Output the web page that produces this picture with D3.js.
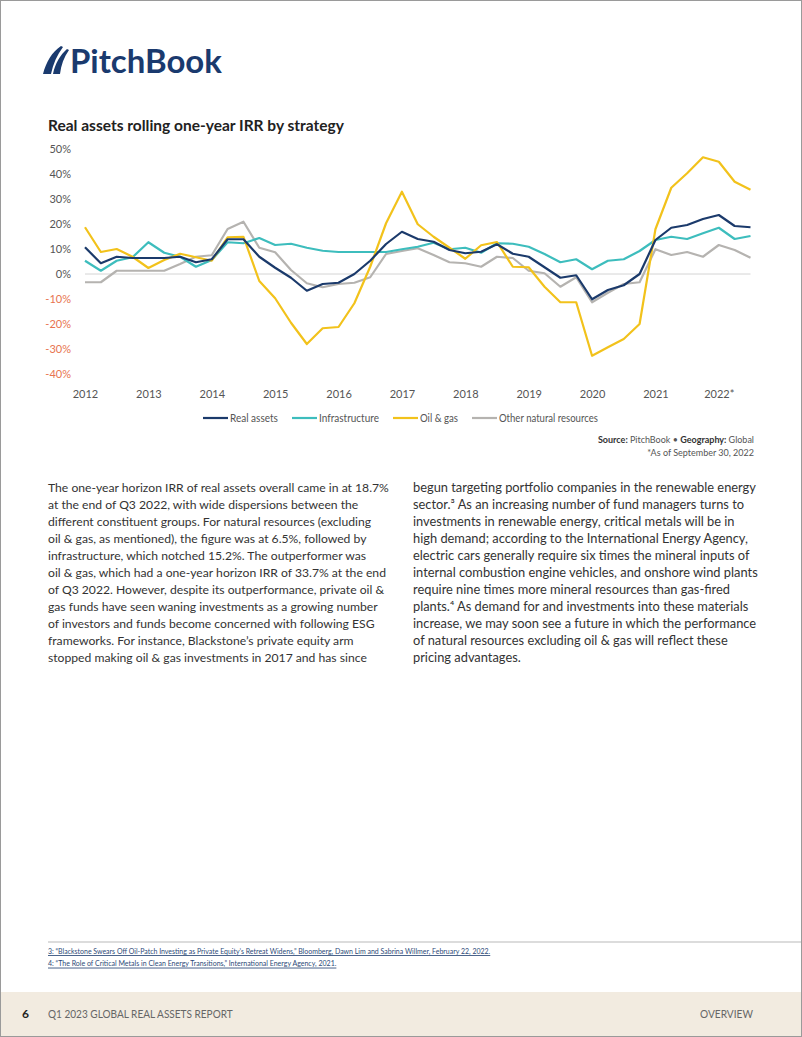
<!DOCTYPE html>
<html><head><meta charset="utf-8">
<script src="https://cdn.jsdelivr.net/npm/d3@7"></script>
<style>
html,body{margin:0;padding:0;background:#fff;}
svg{display:block;}
text{font-family:Lato,"Open Sans",sans-serif;}
</style></head>
<body>
<script>
// ---- data ----
const quarters = d3.range(43); // 2012 Q1 .. 2022 Q3
const tickYears = ["2012","2013","2014","2015","2016","2017","2018","2019","2020","2021","2022*"];
const yTicks = [50,40,30,20,10,0,-10,-20,-30,-40];
const seriesNames = ["Real assets","Infrastructure","Oil & gas","Other natural resources"];
const realAssets = [10.7,4.3,6.9,6.4,6.4,6.4,6.9,4.7,5.9,13.9,13.9,6.9,2.5,-1.5,-6.7,-4,-3.5,0,5.3,12,16.9,14,12.9,9.6,8.3,8.9,11.9,8.1,6.9,2.7,-1.5,-0.5,-10.1,-6.4,-4.5,0,13.6,18.5,19.6,22,23.6,19.2,18.7];
const infrastructure = [5.3,1.3,5.3,6.7,12.7,8.5,6.9,2.9,5.6,12.7,12.3,14.4,11.6,12.1,10.5,9.3,8.8,8.8,8.8,8.8,9.9,10.9,12.5,9.9,10.5,8.5,12.3,12.1,10.9,8,4.7,5.9,1.9,5.3,5.9,9.2,13.6,14.9,14,16.3,18.5,14,15.2];
const oilGas = [18.7,8.8,10,6.9,2.4,5.6,8.1,6.7,5.3,14.7,14.9,-2.8,-9.7,-19.5,-28,-21.7,-21.2,-11.7,2.9,20.3,32.9,19.9,14.9,10.5,6.1,11.5,12.8,2.9,2.7,-5.1,-11.3,-11.3,-32.7,-29.3,-26,-20,17.9,34.5,40.3,46.7,44.9,36.9,33.7];
const otherNatural = [-3.3,-3.3,1.3,1.3,1.3,1.3,4,6.9,7.5,18,20.9,10.5,8.7,1.6,-3.7,-5.3,-4,-3.5,-1.3,8,9.2,10.3,7.6,4.7,4.3,2.9,6.9,6.4,1.3,0.3,-5.1,-1.3,-11.3,-7.5,-4,-3.3,9.9,7.6,8.8,6.9,11.6,9.6,6.5];
const seriesValues = [realAssets, infrastructure, oilGas, otherNatural];
const colors = ["#1b3a6b","#3dbdbd","#f2c21b","#b5b3b0"];

const leftPara = [
"The one-year horizon IRR of real assets overall came in at 18.7%",
"at the end of Q3 2022, with wide dispersions between the",
"different constituent groups. For natural resources (excluding",
"oil & gas, as mentioned), the figure was at 6.5%, followed by",
"infrastructure, which notched 15.2%. The outperformer was",
"oil & gas, which had a one-year horizon IRR of 33.7% at the end",
"of Q3 2022. However, despite its outperformance, private oil &",
"gas funds have seen waning investments as a growing number",
"of investors and funds become concerned with following ESG",
"frameworks. For instance, Blackstone’s private equity arm",
"stopped making oil & gas investments in 2017 and has since"];
const rightPara = [
"begun targeting portfolio companies in the renewable energy",
"sector.³ As an increasing number of fund managers turns to",
"investments in renewable energy, critical metals will be in",
"high demand; according to the International Energy Agency,",
"electric cars generally require six times the mineral inputs of",
"internal combustion engine vehicles, and onshore wind plants",
"require nine times more mineral resources than gas-fired",
"plants.⁴ As demand for and investments into these materials",
"increase, we may soon see a future in which the performance",
"of natural resources excluding oil & gas will reflect these",
"pricing advantages."];
const footnotes = [
"3: “Blackstone Swears Off Oil-Patch Investing as Private Equity’s Retreat Widens,” Bloomberg, Dawn Lim and Sabrina Willmer, February 22, 2022.",
"4: “The Role of Critical Metals in Clean Energy Transitions,” International Energy Agency, 2021."];

// ---- drawing ----
const W = 802, H = 1037;
const svg = d3.select("body").append("svg").attr("width", W).attr("height", H);
svg.append("rect").attr("width", W).attr("height", H).attr("fill", "#fff");

// helper: squeeze text horizontally to a target width (condensed look)
function squeeze(t, x0, targetW, anchor) {
  const w = t.node().getComputedTextLength();
  const s = targetW / w;
  const ax = anchor === "end" ? x0 : x0;
  t.attr("transform", `translate(${ax},0) scale(${s},1) translate(${-ax},0)`);
}

// logo
const logo = svg.append("g");
logo.append("path").attr("fill", "#1a3a6e")
  .attr("d", "M43,74 C46,62 52,52 61,46 L63,47 C57,55 53,64 51,74 Z");
logo.append("path").attr("fill", "#1a3a6e")
  .attr("d", "M53,74 C55,64 60,55 67,49 L69,50 C64,57 61,65 60,74 Z");
const lt = logo.append("text").attr("x", 70).attr("y", 73).attr("font-size", 32).attr("font-weight", 700)
  .attr("fill", "#1a3a6e").text("PitchBook");
squeeze(lt, 70, 152);

// title
svg.append("text").attr("x", 48).attr("y", 131).attr("font-size", 15.5).attr("font-weight", 700)
  .attr("fill", "#222").text("Real assets rolling one-year IRR by strategy");

// scales
const x = d3.scaleLinear().domain([0, 42]).range([85, 750.5]);
const y = d3.scaleLinear().domain([-40, 50]).range([374, 149]);

// y axis
const yAxis = svg.append("g").attr("transform", "translate(71,0)")
  .call(d3.axisLeft(y).tickValues(yTicks).tickSize(0).tickPadding(0).tickFormat(d => d + "%"));
yAxis.select(".domain").remove();
yAxis.selectAll("text").attr("font-family", "Lato, sans-serif").attr("font-size", 11)
  .attr("fill", d => d < 0 ? "#e8744f" : "#555");

// x axis
const xAxis = svg.append("g").attr("transform", "translate(0,390)")
  .call(d3.axisBottom(x).tickValues(d3.range(0, 41, 4)).tickSize(0).tickPadding(0)
    .tickFormat((d, i) => tickYears[i]));
xAxis.select(".domain").remove();
xAxis.selectAll("text").attr("font-family", "Lato, sans-serif").attr("font-size", 11).attr("fill", "#555");

// zero line
svg.append("line").attr("x1", x(0)).attr("x2", x(42)).attr("y1", y(0)).attr("y2", y(0))
  .attr("stroke", "#d4d4d4").attr("stroke-width", 1);

// lines
const line = d3.line().x((d, i) => x(i)).y(d => y(d));
[3, 1, 2, 0].forEach(k => {
  svg.append("path").datum(seriesValues[k]).attr("fill", "none")
    .attr("stroke", colors[k]).attr("stroke-width", 2.2).attr("stroke-linejoin", "round")
    .attr("d", line);
});

// legend
const legX = [203, 292, 393, 472];
const legTW = [48, 60, 38, 99];
const leg = svg.append("g");
seriesNames.forEach((n, i) => {
  leg.append("line").attr("x1", legX[i]).attr("x2", legX[i] + 25).attr("y1", 418).attr("y2", 418)
    .attr("stroke", colors[i]).attr("stroke-width", 2.2);
  const t = leg.append("text").attr("x", legX[i] + 27).attr("y", 422).attr("font-size", 11.5).attr("fill", "#555").text(n);
  squeeze(t, legX[i] + 27, legTW[i]);
});

// source
const src = svg.append("text").attr("x", 754).attr("y", 443).attr("text-anchor", "end")
  .attr("font-size", 9).attr("fill", "#555");
src.append("tspan").attr("font-weight", 700).attr("fill", "#333").text("Source: ");
src.append("tspan").text("PitchBook  •  ");
src.append("tspan").attr("font-weight", 700).attr("fill", "#333").text("Geography: ");
src.append("tspan").text("Global");
svg.append("text").attr("x", 754).attr("y", 456).attr("text-anchor", "end")
  .attr("font-size", 9).attr("fill", "#555").text("*As of September 30, 2022");

// paragraphs
function para(lines, x0, y0, targetW) {
  const g = svg.append("g");
  const ts = lines.map((l, i) => g.append("text").attr("x", x0).attr("y", y0 + i * 16.95)
    .attr("font-size", 13).attr("fill", "#333").text(l));
  const maxW = d3.max(ts, t => t.node().getComputedTextLength());
  const fs = 13 * targetW / maxW;
  ts.forEach(t => t.attr("font-size", fs));
}
para(leftPara, 48, 492, 341);
para(rightPara, 413, 492, 345);

// footnote rule
svg.append("line").attr("x1", 48).attr("x2", W).attr("y1", 942).attr("y2", 942)
  .attr("stroke", "#d0d0d0").attr("stroke-width", 1.5);
const fnW = [443, 289];
footnotes.forEach((f, i) => {
  const t = svg.append("text").attr("x", 48).attr("y", 954 + i * 12.5).attr("font-size", 8.5)
    .attr("fill", "#2c4a78").attr("text-decoration", "underline").text(f);
  squeeze(t, 48, fnW[i]);
});

// footer band
svg.append("rect").attr("x", 0).attr("y", 992).attr("width", W).attr("height", H - 992).attr("fill", "#f2ebe0");
svg.append("text").attr("x", 22).attr("y", 1018).attr("font-size", 12).attr("font-weight", 700)
  .attr("fill", "#222").text("6");
const ft = svg.append("text").attr("x", 48).attr("y", 1018).attr("font-size", 10.5).attr("fill", "#666")
  .text("Q1 2023 GLOBAL REAL ASSETS REPORT");
squeeze(ft, 48, 185);
const ov = svg.append("text").attr("x", 700).attr("y", 1018).attr("font-size", 10.5).attr("fill", "#666")
  .text("OVERVIEW");
squeeze(ov, 700, 53);

// page frame
svg.append("rect").attr("x", 0.5).attr("y", 0.5).attr("width", W - 1).attr("height", H - 1)
  .attr("fill", "none").attr("stroke", "#9a9a9a").attr("stroke-width", 1);
</script>
</body></html>
